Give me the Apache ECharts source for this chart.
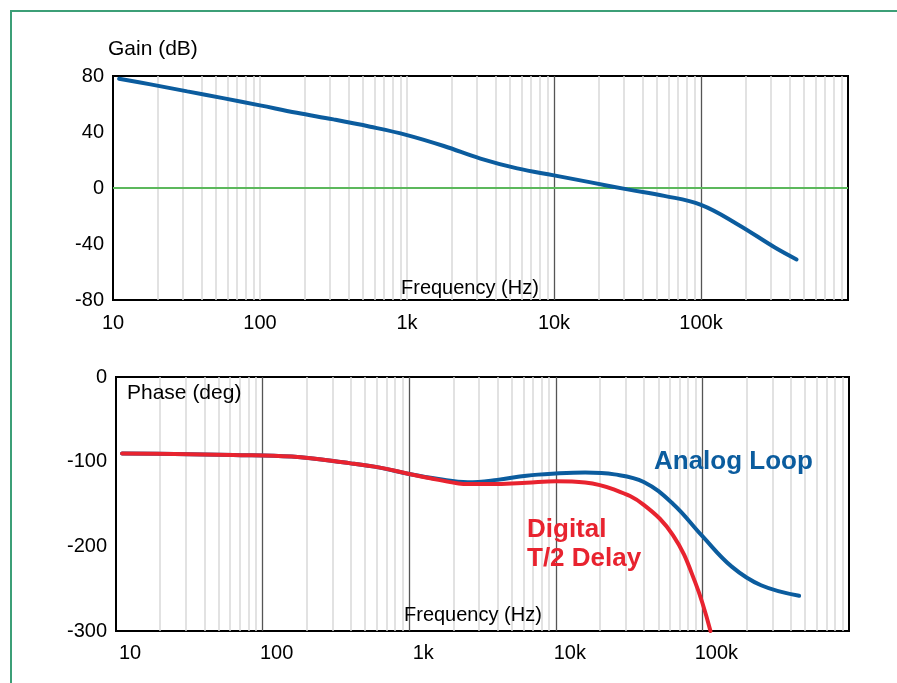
<!DOCTYPE html>
<html>
<head>
<meta charset="utf-8">
<script src="https://cdn.jsdelivr.net/npm/echarts@6/dist/echarts.min.js"></script>
<style>html,body{margin:0;padding:0;background:#fff}#c{width:897px;height:683px}</style>
</head>
<body>
<div id="c"></div>
<script>
// ---- data ----
const tickValues = [10, 100, 1000, 10000, 100000, 1000000];
const tickLabels = ['10', '100', '1k', '10k', '100k', ''];
const gainTicks = [-80, -40, 0, 40, 80];
const phaseTicks = [-300, -200, -100, 0];

const gainFreq = [11, 18, 32, 56, 100, 178, 316, 562, 1000, 1780, 3160, 5620, 10000, 17800, 31600, 56200, 100000, 178000, 316000, 447000];
const gainDb   = [78, 74, 69, 64.2, 59, 53.7, 49, 43.8, 37.8, 30, 21, 14, 9, 4, -1, -5.6, -12, -26, -42.3, -51];

const analogFreq  = [11, 25, 63, 158, 398, 631, 1000, 1585, 2512, 3981, 6310, 10000, 15850, 25120, 39810, 63100, 100000, 158500, 251200, 457000];
const analogPhase = [-90.4, -91, -92, -94, -102, -107, -114.5, -120.5, -124.3, -121.5, -116.5, -114, -112.8, -115, -124, -150, -188, -224, -246, -258.4];

const digitalFreq  = [11, 25, 63, 158, 398, 631, 1000, 1585, 2512, 3981, 6310, 10000, 15850, 25120, 39810, 63100, 89100, 113500];
const digitalPhase = [-90.4, -91, -92, -94, -102, -107, -114.5, -121.5, -126.5, -126.5, -125, -123, -124.5, -133, -151, -187, -242, -300];

// grid line frequencies
const minorFreqs = [];
for (let e = 1; e <= 5; e++) for (let k = 2; k <= 9; k++) minorFreqs.push(k * Math.pow(10, e));
const topLightMajors = [100, 1000];
const topDarkMajors = [10000, 100000];
const bottomDarkMajors = [100, 1000, 10000, 100000];

const FONT = "'Liberation Sans', Arial, sans-serif";
const BLUE = '#0b5c9e';
const RED = '#e8232f';

function pairs(xs, ys) { return xs.map((x, i) => [x, ys[i]]); }
function fmtX(v) {
  const i = tickValues.findIndex(t => Math.abs(t - v) / t < 1e-6);
  return i >= 0 ? tickLabels[i] : '';
}
function vlines(vals, color, width) {
  return vals.map(v => ({ xAxis: v, lineStyle: { color: color, width: width, type: 'solid' } }));
}
function gridSeries(idx, light, dark) {
  return {
    type: 'line', xAxisIndex: idx, yAxisIndex: idx, data: [], z: 1, silent: true,
    markLine: {
      silent: true, symbol: ['none', 'none'], label: { show: false }, animation: false, z: 1,
      data: vlines(light, '#d9d9d9', 1.5).concat(vlines(dark, '#555555', 1.3))
    }
  };
}

const chart = echarts.init(document.getElementById('c'), null, { renderer: 'canvas' });
const xBase = {
  type: 'log', logBase: 10, min: 10, max: 1000000, interval: 1,
  axisLine: { show: false }, axisTick: { show: false }, splitLine: { show: false },
  minorTick: { show: false }, minorSplitLine: { show: false }
};
const yBase = {
  type: 'value', axisLine: { show: false }, axisTick: { show: false }, splitLine: { show: false }
};
const lineCommon = { smooth: 0.4, showSymbol: false, z: 3 };

chart.setOption({
  animation: false,
  backgroundColor: '#ffffff',
  grid: [
    { left: 113, top: 76, width: 735, height: 224, show: true, borderColor: '#000', borderWidth: 2, backgroundColor: 'transparent', z: 0 },
    { left: 116, top: 377, width: 733, height: 254, show: true, borderColor: '#000', borderWidth: 2, backgroundColor: 'transparent', z: 0 }
  ],
  xAxis: [
    Object.assign({}, xBase, { gridIndex: 0, axisLabel: { formatter: fmtX, fontSize: 20, fontFamily: FONT, color: '#000', margin: 13 } }),
    Object.assign({}, xBase, { gridIndex: 1, axisLabel: { formatter: fmtX, fontSize: 20, fontFamily: FONT, color: '#000', margin: 12, padding: [0, 0, 0, 28] } })
  ],
  yAxis: [
    Object.assign({}, yBase, { gridIndex: 0, min: gainTicks[0], max: gainTicks[gainTicks.length - 1], interval: 40,
      axisLabel: { fontSize: 20, fontFamily: FONT, color: '#000', margin: 9 } }),
    Object.assign({}, yBase, { gridIndex: 1, min: phaseTicks[0], max: phaseTicks[phaseTicks.length - 1], interval: 100,
      axisLabel: { fontSize: 20, fontFamily: FONT, color: '#000', margin: 9 } })
  ],
  series: [
    gridSeries(0, minorFreqs.concat(topLightMajors), topDarkMajors),
    gridSeries(1, minorFreqs, bottomDarkMajors),
    Object.assign({}, lineCommon, {
      name: 'Gain', type: 'line', xAxisIndex: 0, yAxisIndex: 0,
      data: pairs(gainFreq, gainDb),
      lineStyle: { color: BLUE, width: 4, cap: 'round' },
      markLine: {
        silent: true, symbol: ['none', 'none'], label: { show: false }, z: 2,
        data: [{ yAxis: 0 }], lineStyle: { color: '#5cb85c', width: 2, type: 'solid' }
      }
    }),
    Object.assign({}, lineCommon, {
      name: 'Analog Loop', type: 'line', xAxisIndex: 1, yAxisIndex: 1,
      data: pairs(analogFreq, analogPhase),
      lineStyle: { color: BLUE, width: 4, cap: 'round' }
    }),
    Object.assign({}, lineCommon, {
      name: 'Digital T/2 Delay', type: 'line', xAxisIndex: 1, yAxisIndex: 1, z: 4,
      data: pairs(digitalFreq, digitalPhase),
      lineStyle: { color: RED, width: 4, cap: 'round' }
    })
  ],
  graphic: [
    { type: 'rect', shape: { x: 11, y: 11, width: 1000, height: 1000 }, style: { fill: null, stroke: '#3c9f77', lineWidth: 2 }, z: 0, silent: true },
    { type: 'text', x: 108, y: 49, style: { text: 'Gain (dB)', font: '21px ' + FONT, fill: '#000', textVerticalAlign: 'middle' }, z: 10 },
    { type: 'text', x: 401, y: 288, style: { text: 'Frequency (Hz)', font: '20px ' + FONT, fill: '#000', textVerticalAlign: 'middle' }, z: 10 },
    { type: 'text', x: 127, y: 393, style: { text: 'Phase (deg)', font: '21px ' + FONT, fill: '#000', textVerticalAlign: 'middle' }, z: 10 },
    { type: 'text', x: 404, y: 615, style: { text: 'Frequency (Hz)', font: '20px ' + FONT, fill: '#000', textVerticalAlign: 'middle' }, z: 10 },
    { type: 'text', x: 654, y: 462, style: { text: 'Analog Loop', font: 'bold 26px ' + FONT, fill: BLUE, textVerticalAlign: 'middle' }, z: 10 },
    { type: 'text', x: 527, y: 530, style: { text: 'Digital', font: 'bold 26px ' + FONT, fill: RED, textVerticalAlign: 'middle' }, z: 10 },
    { type: 'text', x: 527, y: 559, style: { text: 'T/2 Delay', font: 'bold 26px ' + FONT, fill: RED, textVerticalAlign: 'middle' }, z: 10 }
  ]
});
</script>
</body>
</html>
